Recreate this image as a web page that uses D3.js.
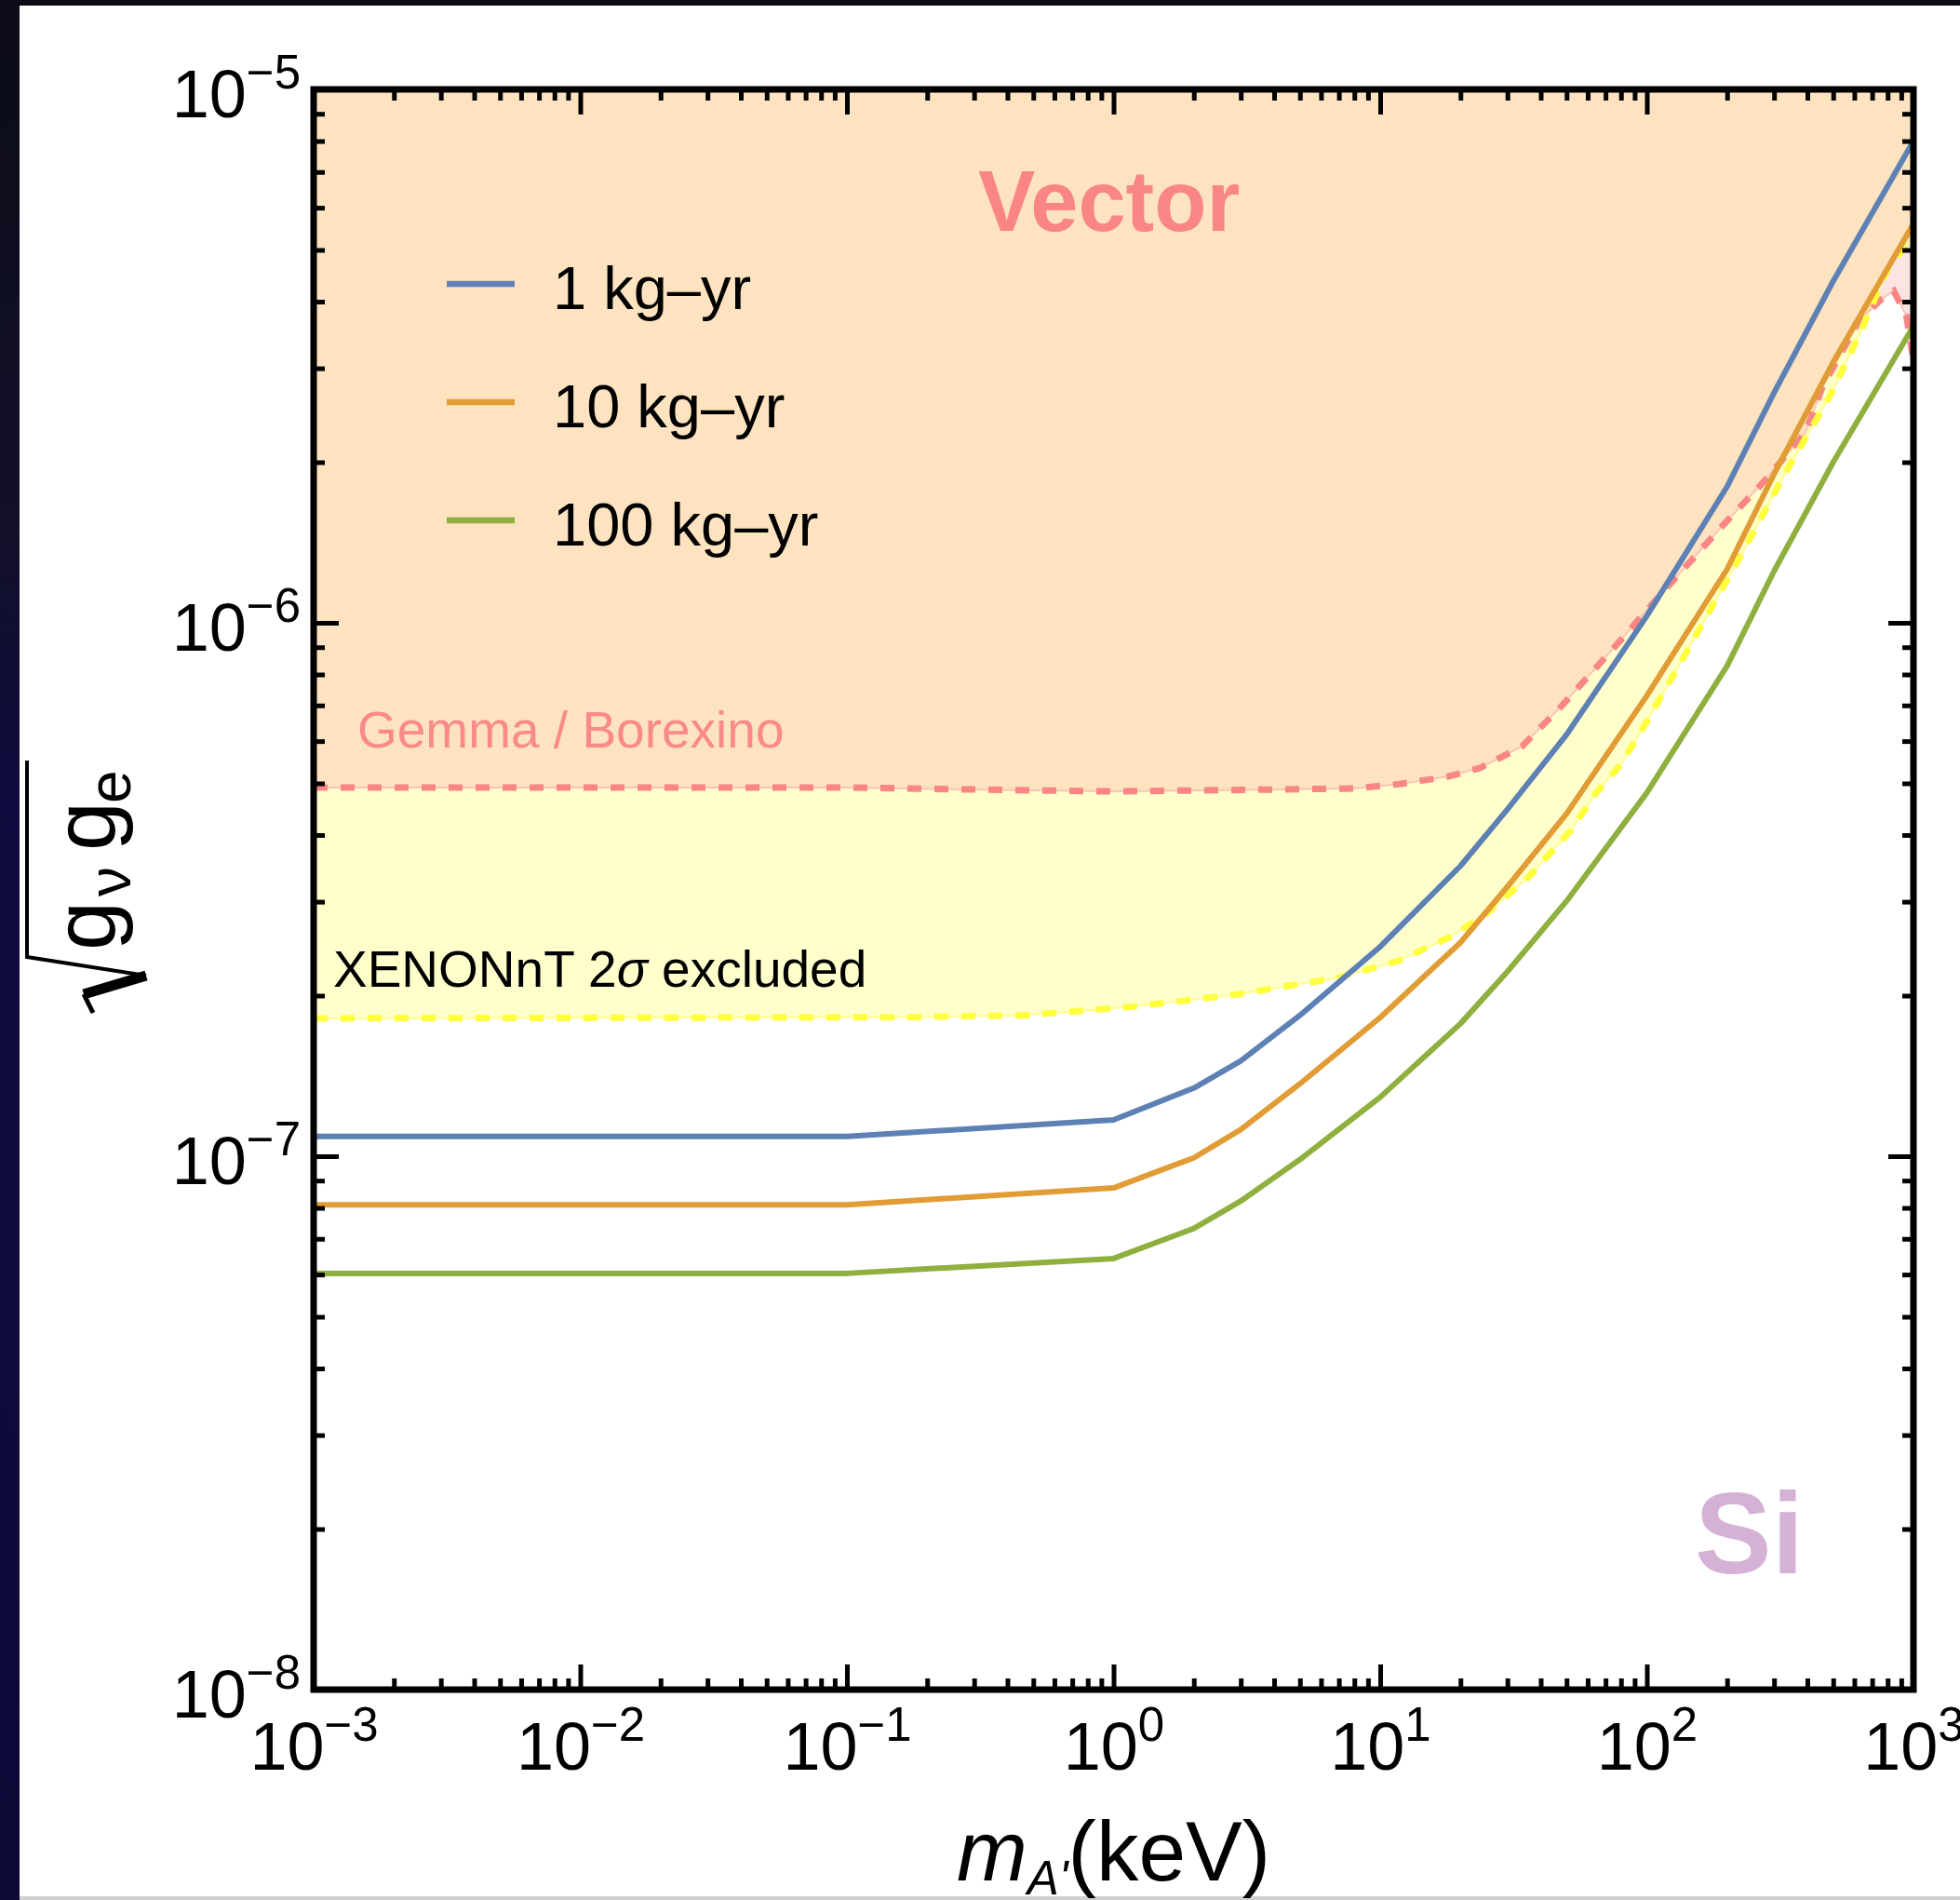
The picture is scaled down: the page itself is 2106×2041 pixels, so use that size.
<!DOCTYPE html>
<html>
<head>
<meta charset="utf-8">
<script src="https://cdn.jsdelivr.net/npm/d3@7"></script>
<style>
  body { margin: 0; background: #0c0c16; }
  svg { display: block; }
  text { font-family: "Liberation Sans", Arial, sans-serif; }
</style>
</head>
<body>
<div class="chart"></div>
<script>
// Projected Si sensitivity to a light vector mediator, sqrt(g_nu g_e) vs m_A'

// dark photon mass grid (keV) for the exposure curves
var massKeV = [1e-3, 0.1, 1, 2, 3, 5, 10, 20, 30, 50, 100, 200, 300, 500, 1000];
// 1, 10 and 100 kg-yr projected limits
var limit1 = [1.089e-7, 1.089e-7, 1.17e-7, 1.342e-7, 1.509e-7, 1.837e-7, 2.47e-7, 3.50e-7, 4.47e-7, 6.17e-7, 1.03e-6, 1.80e-6, 2.70e-6, 4.37e-6, 8.0e-6];
var limit10 = [8.11e-8, 8.11e-8, 8.72e-8, 9.93e-8, 1.122e-7, 1.367e-7, 1.82e-7, 2.515e-7, 3.2e-7, 4.385e-7, 7.3e-7, 1.26e-6, 1.90e-6, 3.08e-6, 5.6e-6];
var limit100 = [6.03e-8, 6.03e-8, 6.43e-8, 7.32e-8, 8.24e-8, 9.86e-8, 1.29e-7, 1.772e-7, 2.218e-7, 3.008e-7, 4.80e-7, 8.3e-7, 1.25e-6, 2.0e-6, 3.6e-6];
var exposureLabels = ["1 kg\u2013yr", "10 kg\u2013yr", "100 kg\u2013yr"];

// Gemma / Borexino bound
var gemmaMass = [1e-3, 1e-2, 0.1, 0.5, 1, 3, 8, 12, 18, 23.6, 34, 48, 75, 120, 190, 275, 395, 456, 546, 631, 757, 843, 941, 1000];
var gemmaLimit = [4.91e-7, 4.91e-7, 4.91e-7, 4.85e-7, 4.83e-7, 4.86e-7, 4.89e-7, 4.99e-7, 5.15e-7, 5.34e-7, 5.86e-7, 6.99e-7, 8.96e-7, 1.17e-6, 1.51e-6, 1.84e-6, 2.28e-6, 2.77e-6, 3.26e-6, 3.70e-6, 4.04e-6, 4.19e-6, 3.76e-6, 3.1e-6];

// XENONnT 2 sigma excluded
var xenonMass = [1e-3, 0.17, 0.46, 1.16, 2.91, 6.9, 11.6, 18.4, 25.1, 36.3, 51.9, 64.6, 80.2, 99.6, 133, 237, 329, 490, 631, 811, 940, 1000];
var xenonLimit = [1.813e-7, 1.822e-7, 1.837e-7, 1.905e-7, 2.01e-7, 2.16e-7, 2.32e-7, 2.58e-7, 2.85e-7, 3.35e-7, 4.08e-7, 4.80e-7, 5.44e-7, 6.51e-7, 8.37e-7, 1.40e-6, 1.90e-6, 2.68e-6, 3.50e-6, 4.67e-6, 5.1e-6, 5.22e-6];

// axis ticks
var xTickValues = [1e-3, 1e-2, 1e-1, 1e0, 1e1, 1e2, 1e3];
var xTickExp = ["\u22123", "\u22122", "\u22121", "0", "1", "2", "3"];
var yTickValues = [1e-8, 1e-7, 1e-6, 1e-5];
var yTickExp = ["\u22128", "\u22127", "\u22126", "\u22125"];

var svgWidth = 2106;
var svgHeight = 2041;

var margin = {
  top: 96,
  right: 50,
  bottom: 226,
  left: 337
};

var width = svgWidth - margin.left - margin.right;
var height = svgHeight - margin.top - margin.bottom;

var svg = d3
  .select(".chart")
  .append("svg")
  .attr("width", svgWidth)
  .attr("height", svgHeight);

// screenshot frame: dark strip at left and top, grey line at bottom
var defs = svg.append("defs");
var grad = defs.append("linearGradient")
  .attr("id", "leftBand")
  .attr("x1", 0).attr("y1", 0).attr("x2", 0).attr("y2", 1);
grad.append("stop").attr("offset", "0").attr("stop-color", "#0b0c17");
grad.append("stop").attr("offset", "0.28").attr("stop-color", "#12102a");
grad.append("stop").attr("offset", "0.42").attr("stop-color", "#0f0b3e");
grad.append("stop").attr("offset", "1").attr("stop-color", "#0d0a38");

svg.append("rect").attr("width", svgWidth).attr("height", svgHeight).attr("fill", "#0c0c16");
svg.append("rect").attr("width", 21).attr("height", svgHeight).attr("fill", "url(#leftBand)");
svg.append("rect").attr("x", 21).attr("y", 6).attr("width", svgWidth - 21).attr("height", 2031).attr("fill", "#ffffff");
svg.append("rect").attr("x", 21).attr("y", 2037).attr("width", svgWidth - 21).attr("height", 4).attr("fill", "#cfcfcf");

defs.append("clipPath").attr("id", "plotClip")
  .append("rect").attr("width", width).attr("height", height);

var chartGroup = svg.append("g")
  .attr("transform", `translate(${margin.left}, ${margin.top})`);

// scales
var xLogScale = d3.scaleLog().domain([1e-3, 1e3]).range([0, width]);
var yLogScale = d3.scaleLog().domain([1e-8, 1e-5]).range([height, 0]);

var plot = chartGroup.append("g").attr("clip-path", "url(#plotClip)");

// excluded regions: everything above each bound
function regionArea() {
  return d3.area()
    .x(d => xLogScale(d[0]))
    .y0(yLogScale(1e-5))
    .y1(d => yLogScale(d[1]));
}
var lineGen = d3.line()
  .x(d => xLogScale(d[0]))
  .y(d => yLogScale(d[1]));

var xenonData = d3.zip(xenonMass, xenonLimit);
var gemmaData = d3.zip(gemmaMass, gemmaLimit);

plot.append("path")
  .datum(xenonData)
  .attr("d", regionArea())
  .attr("fill", "#ffffcc");

plot.append("path")
  .datum(gemmaData)
  .attr("d", regionArea())
  .attr("fill", "rgb(249,176,170)")
  .attr("fill-opacity", 0.353);

// faint region edges under the dashes
plot.append("path")
  .datum(xenonData)
  .attr("d", lineGen)
  .attr("fill", "none")
  .attr("stroke", "#ffff88")
  .attr("stroke-width", 2);

plot.append("path")
  .datum(gemmaData)
  .attr("d", lineGen)
  .attr("fill", "none")
  .attr("stroke", "#f9c3b8")
  .attr("stroke-width", 2);

// dashed bounds
plot.append("path")
  .datum(gemmaData)
  .attr("d", lineGen)
  .attr("fill", "none")
  .attr("stroke", "#fa8585")
  .attr("stroke-width", 7)
  .attr("stroke-dasharray", "15,14");

plot.append("path")
  .datum(xenonData)
  .attr("d", lineGen)
  .attr("fill", "none")
  .attr("stroke", "#ffff3c")
  .attr("stroke-width", 7)
  .attr("stroke-dasharray", "15,14");

// projected limits
var series = [
  { label: exposureLabels[0], values: limit1, color: "#5e81b5" },
  { label: exposureLabels[1], values: limit10, color: "#e19c35" },
  { label: exposureLabels[2], values: limit100, color: "#8fb03f" }
];

plot.selectAll(".limit")
  .data(series)
  .enter()
  .append("path")
  .attr("class", "limit")
  .attr("d", s => lineGen(d3.zip(massKeV, s.values)))
  .attr("fill", "none")
  .attr("stroke", s => s.color)
  .attr("stroke-width", 6)
  .attr("stroke-linejoin", "round");

// minor tick positions, 2..9 in every decade
var xMinor = [];
d3.range(-3, 3).forEach(function(e) {
  d3.range(2, 10).forEach(function(m) { xMinor.push(m * Math.pow(10, e)); });
});
var yMinor = [];
d3.range(-8, -5).forEach(function(e) {
  d3.range(2, 10).forEach(function(m) { yMinor.push(m * Math.pow(10, e)); });
});

function styleAxis(g) {
  g.select(".domain").remove();
  g.selectAll(".tick line").attr("stroke", "#000").attr("stroke-width", 5);
  g.selectAll(".tick text").remove();
}

function addAxis(axisFn, values, size, transform) {
  return chartGroup.append("g")
    .attr("transform", transform)
    .call(axisFn.tickValues(values).tickSize(-size).tickSizeOuter(0).tickFormat(""))
    .call(styleAxis);
}

var bottomMajor = addAxis(d3.axisBottom(xLogScale), xTickValues, 27, `translate(0, ${height})`);
addAxis(d3.axisBottom(xLogScale), xMinor, 12, `translate(0, ${height})`);
addAxis(d3.axisTop(xLogScale), xTickValues, 27, "translate(0, 0)");
addAxis(d3.axisTop(xLogScale), xMinor, 12, "translate(0, 0)");
var leftMajor = addAxis(d3.axisLeft(yLogScale), yTickValues, 27, "translate(0, 0)");
addAxis(d3.axisLeft(yLogScale), yMinor, 12, "translate(0, 0)");
addAxis(d3.axisRight(yLogScale), yTickValues, 27, `translate(${width}, 0)`);
addAxis(d3.axisRight(yLogScale), yMinor, 12, `translate(${width}, 0)`);

// frame
chartGroup.append("rect")
  .attr("width", width)
  .attr("height", height)
  .attr("fill", "none")
  .attr("stroke", "#000")
  .attr("stroke-width", 7);

// tick labels as 10^n
function powerLabel(text, exp) {
  text.append("tspan").attr("font-size", 72).text("10");
  text.append("tspan").attr("font-size", 51).attr("dy", -31).text(exp);
}

bottomMajor.selectAll(".tick").each(function(d, i) {
  var t = d3.select(this).append("text")
    .attr("x", 0)
    .attr("y", 86)
    .attr("fill", "#000")
    .attr("text-anchor", "middle");
  powerLabel(t, xTickExp[i]);
});

leftMajor.selectAll(".tick").each(function(d, i) {
  var t = d3.select(this).append("text")
    .attr("x", -14)
    .attr("y", 29)
    .attr("fill", "#000")
    .attr("text-anchor", "end");
  powerLabel(t, yTickExp[i]);
});

// x axis title
var xTitle = svg.append("text")
  .attr("x", margin.left + width / 2)
  .attr("y", 2020)
  .attr("text-anchor", "middle")
  .attr("fill", "#000")
  .attr("font-size", 91);
xTitle.append("tspan").attr("font-style", "italic").text("m");
xTitle.append("tspan").attr("font-style", "italic").attr("font-size", 51).attr("dy", 15).text("A'");
xTitle.append("tspan").attr("dy", -15).text("(keV)");

// y axis title: sqrt(g_nu g_e), rotated
var yTitle = svg.append("g")
  .attr("transform", "translate(123, 955) rotate(-90)");

yTitle.append("path")
  .attr("d", "M-133,-23 L-113,-33")
  .attr("fill", "none")
  .attr("stroke", "#000")
  .attr("stroke-width", 5);
yTitle.append("path")
  .attr("d", "M-113,-33 L-93,34")
  .attr("fill", "none")
  .attr("stroke", "#000")
  .attr("stroke-width", 11);
yTitle.append("path")
  .attr("d", "M-93,34 L-73,-94 L138,-94")
  .attr("fill", "none")
  .attr("stroke", "#000")
  .attr("stroke-width", 4)
  .attr("stroke-linejoin", "miter");

yTitle.append("text").attr("x", -66).attr("y", 0).attr("font-size", 95).attr("fill", "#000").text("g");
yTitle.append("text").attr("x", -8).attr("y", 17).attr("font-size", 64).attr("fill", "#000").text("\u03bd");
yTitle.append("text").attr("x", 41).attr("y", 0).attr("font-size", 95).attr("fill", "#000").text("g");
yTitle.append("text").attr("x", 92).attr("y", 17).attr("font-size", 64).attr("fill", "#000").text("e");

// legend
var legend = svg.append("g");
var legendY = [305, 432, 559];
series.forEach(function(s, i) {
  legend.append("line")
    .attr("x1", 480).attr("x2", 553)
    .attr("y1", legendY[i]).attr("y2", legendY[i])
    .attr("stroke", s.color)
    .attr("stroke-width", 6.5);
  legend.append("text")
    .attr("x", 594)
    .attr("y", legendY[i] + 27)
    .attr("font-size", 65)
    .attr("fill", "#000")
    .text(s.label);
});

// annotations
svg.append("text")
  .attr("x", 1051).attr("y", 248)
  .attr("font-size", 92).attr("font-weight", "bold")
  .attr("fill", "#fa8585")
  .text("Vector");

svg.append("text")
  .attr("x", 384).attr("y", 803)
  .attr("font-size", 55)
  .attr("fill", "#fa8a8a")
  .text("Gemma / Borexino");

var xenonText = svg.append("text")
  .attr("x", 358).attr("y", 1060)
  .attr("font-size", 55)
  .attr("fill", "#000");
xenonText.append("tspan").text("XENONnT 2");
xenonText.append("tspan").attr("font-style", "italic").text("\u03c3");
xenonText.append("tspan").text(" excluded");

svg.append("text")
  .attr("x", 1821).attr("y", 1690)
  .attr("font-size", 124).attr("font-weight", "bold")
  .attr("fill", "#d6b1d6")
  .text("Si");
</script>
</body>
</html>
